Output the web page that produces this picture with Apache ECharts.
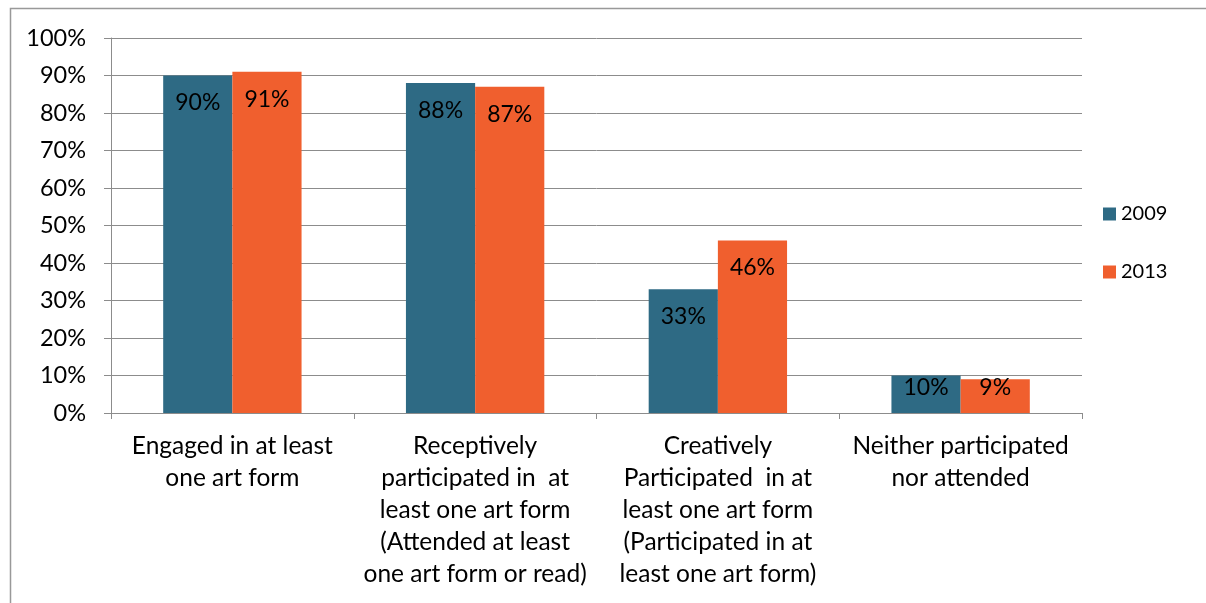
<!DOCTYPE html>
<html>
<head>
<meta charset="utf-8">
<script src="https://cdn.jsdelivr.net/npm/echarts@6/dist/echarts.min.js"></script>
<style>
html,body{margin:0;padding:0;background:#fff;}
#chart{width:1206px;height:603px;}
</style>
</head>
<body>
<div id="chart"></div>
<script>
const categories = [
  "Engaged in at least\none art form",
  "Receptively\nparticipated in  at\nleast one art form\n(Attended at least\none art form or read)",
  "Creatively\nParticipated  in at\nleast one art form\n(Participated in at\nleast one art form)",
  "Neither participated\nnor attended"
];
const values2009 = [90, 88, 33, 10];
const values2013 = [91, 87, 46, 9];
const seriesNames = ["2009", "2013"];

const FONT = "Lato";
const colors = ["#2E6A84", "#F05F2E"];

function makeData(vals) {
  return vals.map((v, i) => {
    if (i === 3) {
      return { value: v, label: { position: "insideBottom", distance: 14 } };
    }
    return v;
  });
}

const chart = echarts.init(document.getElementById("chart"));
chart.setOption({
  animation: false,
  backgroundColor: "#fff",
  textStyle: { fontFamily: FONT },
  graphic: [{
    type: "rect",
    shape: { x: 10.5, y: 8.5, width: 1400, height: 800 },
    style: { fill: "none", stroke: "#999", lineWidth: 1.5 },
    silent: true
  }],
  grid: { left: 111, right: 124, top: 38, bottom: 190, containLabel: false },
  legend: {
    orient: "vertical",
    left: 1103,
    top: 204,
    padding: 0,
    itemWidth: 13,
    itemHeight: 13,
    itemGap: 38,
    icon: "rect",
    textStyle: { fontFamily: FONT, fontSize: 20, color: "#000" },
    data: seriesNames
  },
  xAxis: {
    type: "category",
    data: categories,
    axisLine: { lineStyle: { color: "#8c8c8c", width: 1 } },
    axisTick: { show: true, length: 6, lineStyle: { color: "#8c8c8c" } },
    axisLabel: {
      interval: 0,
      margin: 17,
      fontFamily: FONT,
      fontSize: 24.5,
      lineHeight: 32,
      color: "#000",
      align: "center"
    }
  },
  yAxis: {
    type: "value",
    min: 0,
    max: 100,
    interval: 10,
    axisLine: { show: true, lineStyle: { color: "#8c8c8c", width: 1 } },
    axisTick: { show: true, length: 7, lineStyle: { color: "#8c8c8c" } },
    splitLine: { show: true, lineStyle: { color: "#8c8c8c", width: 1 } },
    axisLabel: {
      formatter: "{value}%",
      margin: 25,
      fontFamily: FONT,
      fontSize: 23.5,
      color: "#000"
    }
  },
  series: [
    {
      name: seriesNames[0],
      type: "bar",
      data: makeData(values2009),
      itemStyle: { color: colors[0] },
      barGap: "0%",
      barCategoryGap: "43%",
      label: {
        show: true,
        position: "insideTop",
        distance: 16,
        formatter: "{c}%",
        fontFamily: FONT,
        fontSize: 23,
        color: "#000"
      }
    },
    {
      name: seriesNames[1],
      type: "bar",
      data: makeData(values2013),
      itemStyle: { color: colors[1] },
      barGap: "0%",
      barCategoryGap: "43%",
      label: {
        show: true,
        position: "insideTop",
        distance: 16,
        formatter: "{c}%",
        fontFamily: FONT,
        fontSize: 23,
        color: "#000"
      }
    }
  ]
});
</script>
</body>
</html>
